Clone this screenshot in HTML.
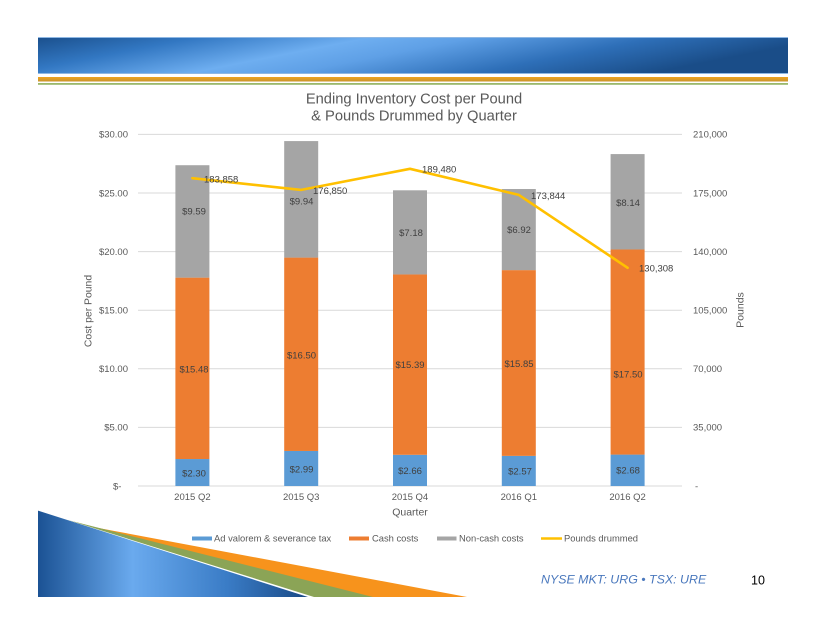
<!DOCTYPE html>
<html>
<head>
<meta charset="utf-8">
<style>
  html,body{margin:0;padding:0;background:#ffffff;}
  body{width:820px;height:634px;overflow:hidden;}
  svg{display:block;}
  text{font-family:"Liberation Sans", Arial, sans-serif;}
</style>
</head>
<body>
<svg width="820" height="634" viewBox="0 0 820 634" xmlns="http://www.w3.org/2000/svg">
  <defs>
    <linearGradient id="banner" x1="0" y1="0" x2="1" y2="0.25">
      <stop offset="0" stop-color="#1a4f8c"/>
      <stop offset="0.2" stop-color="#3277c2"/>
      <stop offset="0.42" stop-color="#6eaef0"/>
      <stop offset="0.55" stop-color="#5fa0e6"/>
      <stop offset="0.78" stop-color="#2e6fb8"/>
      <stop offset="1" stop-color="#1a4d88"/>
    </linearGradient>
    <linearGradient id="deco" x1="0" y1="0" x2="1" y2="0">
      <stop offset="0" stop-color="#1b5294"/>
      <stop offset="0.35" stop-color="#6aaaee"/>
      <stop offset="0.7" stop-color="#3a7cc6"/>
      <stop offset="1" stop-color="#1a4a86"/>
    </linearGradient>
    <linearGradient id="gold" x1="0" y1="0" x2="0" y2="1">
      <stop offset="0" stop-color="#f0a21e"/>
      <stop offset="1" stop-color="#c8952e"/>
    </linearGradient>
  </defs>

  <!-- top banner -->
  <rect x="38" y="37" width="750" height="37" fill="url(#banner)"/>
  <rect x="38" y="37" width="750" height="1" fill="#8fb8e4"/>
  <rect x="38" y="73" width="750" height="1" fill="#8fb8e4"/>
  <rect x="38" y="77" width="750" height="4.5" fill="url(#gold)"/>
  <rect x="38" y="83" width="750" height="1.8" fill="#9bb86a"/>

  <!-- bottom-left decoration -->
  <polygon points="38,516.7 467,597 38,597" fill="#f7931c"/>
  <polygon points="38,512.5 373,597 38,597" fill="#8ba456"/>
  <polygon points="38,510.6 314,597 38,597" fill="#ffffff"/>
  <polygon points="38,510.6 308,597 38,597" fill="url(#deco)"/>

  <!-- title -->
  <text x="414" y="103.5" font-size="14.7" fill="#595959" text-anchor="middle">Ending Inventory Cost per Pound</text>
  <text x="414" y="120.5" font-size="14.7" fill="#595959" text-anchor="middle">&amp; Pounds Drummed by Quarter</text>

  <!-- gridlines -->
  <g stroke="#d9d9d9" stroke-width="1">
    <line x1="138" y1="134.4" x2="682" y2="134.4"/>
    <line x1="138" y1="193" x2="682" y2="193"/>
    <line x1="138" y1="251.6" x2="682" y2="251.6"/>
    <line x1="138" y1="310.2" x2="682" y2="310.2"/>
    <line x1="138" y1="368.8" x2="682" y2="368.8"/>
    <line x1="138" y1="427.4" x2="682" y2="427.4"/>
    <line x1="138" y1="486" x2="682" y2="486"/>
  </g>

  <!-- left axis labels -->
  <g font-size="9.5" fill="#595959" text-anchor="end">
    <text x="128" y="137.7">$30.00</text>
    <text x="128" y="196.3">$25.00</text>
    <text x="128" y="254.9">$20.00</text>
    <text x="128" y="313.5">$15.00</text>
    <text x="128" y="372.1">$10.00</text>
    <text x="128" y="430.7">$5.00</text>
  </g>
  <text x="113" y="489.3" font-size="9.5" fill="#595959">$-</text>

  <!-- right axis labels -->
  <g font-size="9.5" fill="#595959">
    <text x="693" y="137.7">210,000</text>
    <text x="693" y="196.3">175,000</text>
    <text x="693" y="254.9">140,000</text>
    <text x="693" y="313.5">105,000</text>
    <text x="693" y="372.1">70,000</text>
    <text x="693" y="430.7">35,000</text>
    <text x="695" y="489.3">-</text>
  </g>

  <!-- axis titles -->
  <text transform="translate(91.5,311) rotate(-90)" font-size="10.4" fill="#595959" text-anchor="middle">Cost per Pound</text>
  <text transform="translate(743.5,310) rotate(-90)" font-size="10.5" fill="#595959" text-anchor="middle">Pounds</text>

  <!-- bars -->
  <g>
    <!-- 2015 Q2 -->
    <rect x="175.4" y="459.04" width="34" height="26.96" fill="#5b9bd5"/>
    <rect x="175.4" y="277.62" width="34" height="181.42" fill="#ed7d31"/>
    <rect x="175.4" y="165.22" width="34" height="112.4" fill="#a5a5a5"/>
    <!-- 2015 Q3 -->
    <rect x="284.2" y="450.96" width="34" height="35.04" fill="#5b9bd5"/>
    <rect x="284.2" y="257.58" width="34" height="193.38" fill="#ed7d31"/>
    <rect x="284.2" y="141.08" width="34" height="116.5" fill="#a5a5a5"/>
    <!-- 2015 Q4 -->
    <rect x="393" y="454.82" width="34" height="31.18" fill="#5b9bd5"/>
    <rect x="393" y="274.45" width="34" height="180.37" fill="#ed7d31"/>
    <rect x="393" y="190.3" width="34" height="84.15" fill="#a5a5a5"/>
    <!-- 2016 Q1 -->
    <rect x="501.8" y="455.88" width="34" height="30.12" fill="#5b9bd5"/>
    <rect x="501.8" y="270.12" width="34" height="185.76" fill="#ed7d31"/>
    <rect x="501.8" y="189.02" width="34" height="81.1" fill="#a5a5a5"/>
    <!-- 2016 Q2 -->
    <rect x="610.6" y="454.59" width="34" height="31.41" fill="#5b9bd5"/>
    <rect x="610.6" y="249.49" width="34" height="205.1" fill="#ed7d31"/>
    <rect x="610.6" y="154.09" width="34" height="95.4" fill="#a5a5a5"/>
  </g>

  <!-- bar data labels -->
  <g font-size="9.5" fill="#404040" text-anchor="middle">
    <text x="194" y="214.3">$9.59</text>
    <text x="194" y="372.3">$15.48</text>
    <text x="194" y="476.3">$2.30</text>

    <text x="301.5" y="204.3">$9.94</text>
    <text x="301.5" y="358.3">$16.50</text>
    <text x="301.5" y="472.3">$2.99</text>

    <text x="411" y="236">$7.18</text>
    <text x="410" y="368">$15.39</text>
    <text x="410" y="474">$2.66</text>

    <text x="519" y="233">$6.92</text>
    <text x="519" y="367">$15.85</text>
    <text x="520" y="474.3">$2.57</text>

    <text x="628" y="206">$8.14</text>
    <text x="628" y="377.6">$17.50</text>
    <text x="628" y="473.3">$2.68</text>
  </g>

  <!-- pounds drummed line -->
  <polyline points="192.4,178.2 301.2,189.9 410,168.8 518.8,194.9 627.6,267.8" fill="none" stroke="#ffc000" stroke-width="2.6" stroke-linejoin="round" stroke-linecap="round"/>
  <g font-size="9.5" fill="#404040">
    <text x="204" y="182.3">183,858</text>
    <text x="313" y="194">176,850</text>
    <text x="422" y="172.6">189,480</text>
    <text x="531" y="199">173,844</text>
    <text x="639" y="271.3">130,308</text>
  </g>

  <!-- category labels -->
  <g font-size="9.5" fill="#595959" text-anchor="middle">
    <text x="192.4" y="500">2015 Q2</text>
    <text x="301.2" y="500">2015 Q3</text>
    <text x="410" y="500">2015 Q4</text>
    <text x="518.8" y="500">2016 Q1</text>
    <text x="627.6" y="500">2016 Q2</text>
  </g>
  <text x="410" y="515.5" font-size="10.5" fill="#595959" text-anchor="middle">Quarter</text>

  <!-- legend -->
  <rect x="192" y="536.5" width="20" height="4" fill="#5b9bd5"/>
  <text x="214" y="541.5" font-size="9.4" fill="#595959">Ad valorem &amp; severance tax</text>
  <rect x="349" y="536.5" width="20" height="4" fill="#ed7d31"/>
  <text x="372" y="541.5" font-size="9.4" fill="#595959">Cash costs</text>
  <rect x="437" y="536.5" width="19.5" height="4" fill="#a5a5a5"/>
  <text x="459" y="541.5" font-size="9.4" fill="#595959">Non-cash costs</text>
  <line x1="541" y1="538.5" x2="562" y2="538.5" stroke="#ffc000" stroke-width="2.5"/>
  <text x="564" y="541.5" font-size="9.4" fill="#595959">Pounds drummed</text>

  <!-- footer -->
  <text x="541" y="583.3" font-size="12.4" font-style="italic" fill="#4a78bd">NYSE MKT: URG • TSX: URE</text>
  <text x="751" y="584.5" font-size="12.5" fill="#000000">10</text>
</svg>
</body>
</html>
